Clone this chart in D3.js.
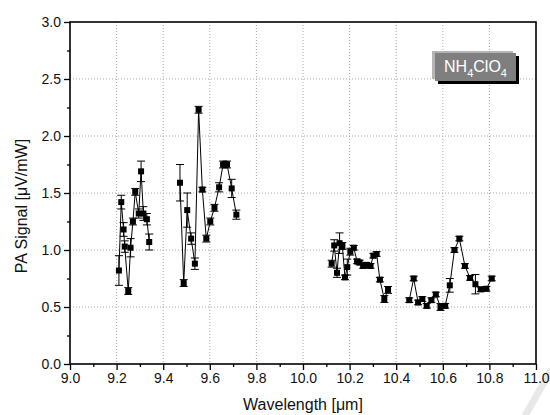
<!DOCTYPE html>
<html><head><meta charset="utf-8">
<script src="https://cdn.jsdelivr.net/npm/d3@7"></script>
<style>body{margin:0;background:#fff}svg{display:block;font-family:"Liberation Sans",Arial,sans-serif}</style>
</head><body><svg id="c" width="550" height="415"></svg>
<script>
// ---- data ----
const wl1  = [9.21,9.22,9.23,9.235,9.25,9.26,9.27,9.28,9.295,9.305,9.315,9.33,9.34];
const sig1 = [0.82,1.42,1.18,1.03,0.64,1.02,1.25,1.51,1.32,1.69,1.32,1.27,1.07];
const err1 = [0.13,0.06,0.06,0.05,0.03,0.08,0.03,0.03,0.04,0.09,0.06,0.05,0.07];
const wl2  = [9.472,9.488,9.503,9.52,9.536,9.552,9.568,9.585,9.602,9.62,9.64,9.657,9.665,9.674,9.694,9.714];
const sig2 = [1.59,0.71,1.35,1.10,0.88,2.23,1.53,1.10,1.25,1.37,1.55,1.75,1.75,1.75,1.54,1.31];
const err2 = [0.16,0.03,0.15,0.05,0.05,0.03,0.02,0.03,0.03,0.03,0.04,0.03,0.02,0.03,0.08,0.04];
const wl3  = [10.123,10.134,10.146,10.157,10.169,10.18,10.19,10.203,10.218,10.232,10.243,10.258,10.272,10.29,10.302,10.316,10.33,10.349,10.365];
const sig3 = [0.88,1.04,0.80,1.06,1.035,0.76,0.85,0.985,1.02,0.90,0.89,0.86,0.87,0.86,0.95,0.965,0.74,0.57,0.65];
const err3 = [0.03,0.05,0.04,0.09,0.03,0.02,0.07,0.03,0.02,0.02,0.02,0.02,0.02,0.02,0.02,0.02,0.02,0.03,0.03];
const wl4  = [10.456,10.475,10.494,10.512,10.531,10.551,10.57,10.59,10.61,10.63,10.65,10.671,10.695,10.717,10.74,10.763,10.787,10.81];
const sig4 = [0.56,0.75,0.54,0.57,0.51,0.56,0.61,0.50,0.51,0.69,1.0,1.10,0.86,0.755,0.70,0.655,0.66,0.75];
const err4 = [0.02,0.02,0.02,0.02,0.02,0.02,0.02,0.03,0.02,0.06,0.02,0.02,0.02,0.02,0.085,0.02,0.02,0.02];
const xTicks = [9.0,9.2,9.4,9.6,9.8,10.0,10.2,10.4,10.6,10.8,11.0];
const yTicks = [0.0,0.5,1.0,1.5,2.0,2.5,3.0];
const xTitle = "Wavelength [\u03bcm]";
const yTitle = "PA Signal [\u03bcV/mW]";

const segments = [[wl1,sig1,err1],[wl2,sig2,err2],[wl3,sig3,err3],[wl4,sig4,err4]]
  .map(([w,s,e]) => w.map((x,i)=>({x, y:s[i], e:e[i]})));

const svg = d3.select("#c");
const L=70, R=536, T=22, B=364;
const x = d3.scaleLinear().domain([9,11]).range([L,R]);
const y = d3.scaleLinear().domain([0,3]).range([B,T]);

// faint watermark stroke (behind everything)
svg.append("path").attr("d","M550,372 L526,414").attr("stroke","#e8e8e8").attr("stroke-width",7).attr("stroke-linecap","round");

// grid
const g = svg.append("g");
g.selectAll(".gx").data(xTicks.slice(1,-1)).join("line")
  .attr("x1",d=>x(d)).attr("x2",d=>x(d)).attr("y1",T).attr("y2",B)
  .attr("stroke","#a8a8a8").attr("stroke-dasharray","1,2");
g.selectAll(".gy").data(yTicks.slice(1,-1)).join("line")
  .attr("y1",d=>y(d)).attr("y2",d=>y(d)).attr("x1",L).attr("x2",R)
  .attr("stroke","#a8a8a8").attr("stroke-dasharray","1,2");

// axes
const fmt = d3.format(".1f");
const xAx = svg.append("g").attr("transform",`translate(0,${B})`)
  .call(d3.axisBottom(x).tickValues(xTicks).tickFormat(fmt).tickSize(6).tickPadding(3));
const xMin = svg.append("g").attr("transform",`translate(0,${B})`)
  .call(d3.axisBottom(x).tickValues(d3.range(9.1,11,0.2)).tickFormat("").tickSize(3));
const yAx = svg.append("g").attr("transform",`translate(${L},0)`)
  .call(d3.axisLeft(y).tickValues(yTicks).tickFormat(fmt).tickSize(6).tickPadding(3));
const yMin = svg.append("g").attr("transform",`translate(${L},0)`)
  .call(d3.axisLeft(y).tickValues(d3.range(0.25,3,0.5)).tickFormat("").tickSize(3));
[xAx,xMin,yAx,yMin].forEach(a=>{a.select(".domain").remove();a.selectAll("line").attr("stroke","#000").attr("stroke-width",1.3);
  a.selectAll("text").attr("font-size",14).attr("fill","#111").attr("font-family","Liberation Sans, Arial, sans-serif");});
// frame
svg.append("rect").attr("x",L).attr("y",T).attr("width",R-L).attr("height",B-T)
  .attr("fill","none").attr("stroke","#000").attr("stroke-width",1.6);

// titles
svg.append("text").attr("x",(L+R)/2).attr("y",410).attr("text-anchor","middle")
  .attr("font-size",16).attr("fill","#111").text(xTitle);
svg.append("text").attr("transform",`translate(27,${(T+B)/2+13}) rotate(-90)`).attr("text-anchor","middle")
  .attr("font-size",16).attr("fill","#111").text(yTitle);

// data
const line = d3.line().x(d=>x(d.x)).y(d=>y(d.y));
const dg = svg.append("g");
segments.forEach(seg=>{
  dg.append("path").datum(seg).attr("d",line).attr("fill","none").attr("stroke","#000").attr("stroke-width",1);
  const eb = dg.append("g").selectAll("g").data(seg).join("g");
  eb.append("line").attr("x1",d=>x(d.x)).attr("x2",d=>x(d.x)).attr("y1",d=>y(d.y-d.e)).attr("y2",d=>y(d.y+d.e)).attr("stroke","#000");
  eb.append("line").attr("x1",d=>x(d.x)-4).attr("x2",d=>x(d.x)+4).attr("y1",d=>y(d.y-d.e)).attr("y2",d=>y(d.y-d.e)).attr("stroke","#000");
  eb.append("line").attr("x1",d=>x(d.x)-4).attr("x2",d=>x(d.x)+4).attr("y1",d=>y(d.y+d.e)).attr("y2",d=>y(d.y+d.e)).attr("stroke","#000");
  eb.append("rect").attr("x",d=>x(d.x)-3).attr("y",d=>y(d.y)-3).attr("width",6).attr("height",6).attr("fill","#000");
});

// label box
const bx=435, by=53, bw=81, bh=28;
svg.append("rect").attr("x",bx+3).attr("y",by+3).attr("width",bw).attr("height",bh).attr("fill","#000");
svg.append("rect").attr("x",bx-3).attr("y",by-2).attr("width",bw).attr("height",bh).attr("fill","#b4b4b4");
svg.append("rect").attr("x",bx).attr("y",by).attr("width",bw).attr("height",bh).attr("fill","#7f7f7f");
const t = svg.append("text").attr("x",bx+bw/2).attr("y",by+19).attr("text-anchor","middle")
  .attr("font-size",16).attr("fill","#fff");
t.append("tspan").text("NH");
t.append("tspan").attr("font-size",11).attr("dy",5).text("4");
t.append("tspan").attr("dy",-5).text("ClO");
t.append("tspan").attr("font-size",11).attr("dy",5).text("4");
</script></body></html>
